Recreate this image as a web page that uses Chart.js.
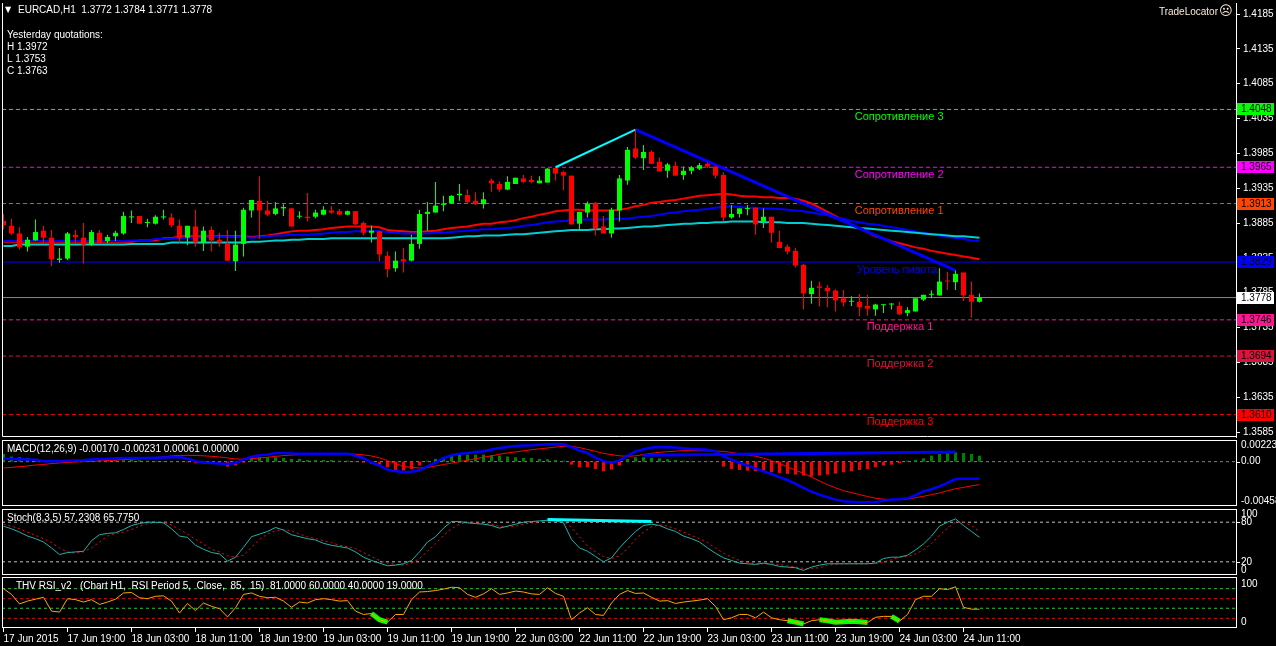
<!DOCTYPE html>
<html lang="en">
<head>
<meta charset="UTF-8" />
<title>EURCAD,H1</title>
<script src="https://cdn.jsdelivr.net/npm/chart.js@4.4.1/dist/chart.umd.min.js"></script>
<style>
  html, body { margin: 0; padding: 0; background: #000; }
  #wrap { position: relative; width: 1276px; height: 646px; background: #000; overflow: hidden; }
  canvas { position: absolute; left: 0; }
</style>
</head>
<body>
<div id="wrap">
  <canvas id="mainChart" width="1276" height="438" style="top:0px"></canvas>
  <canvas id="macdChart" width="1276" height="69" style="top:438px"></canvas>
  <canvas id="stochChart" width="1276" height="69" style="top:507px"></canvas>
  <canvas id="rsiChart" width="1276" height="70" style="top:576px"></canvas>
</div>
<script>
// ---- data (EURCAD H1, 17 Jun 11:00 .. 24 Jun 13:00) ----
const candleOpen = [
  1.3888,1.3881,1.3870,1.3851,1.3860,1.3874,1.3864,1.3832,1.3834,1.3868,
  1.3864,1.3854,1.3871,1.3859,1.3866,1.3870,1.3893,1.3895,1.3885,1.3884,
  1.3893,1.3893,1.3881,1.3864,1.3880,1.3857,1.3875,1.3861,1.3856,1.3830,
  1.3855,1.3903,1.3917,1.3903,1.3898,1.3906,1.3906,1.3894,1.3894,1.3894,
  1.3897,1.3903,1.3902,1.3897,1.3902,1.3885,1.3871,1.3873,1.3838,1.3820,
  1.3833,1.3831,1.3855,1.3898,1.3900,1.3911,1.3913,1.3925,1.3925,1.3917,
  1.3912,1.3946,1.3941,1.3933,1.3941,1.3949,1.3947,1.3942,1.3943,1.3964,
  1.3958,1.3953,1.3884,1.3900,1.3914,1.3880,1.3870,1.3903,1.3946,1.3992,
  1.3978,1.3987,1.3973,1.3960,1.3967,1.3954,1.3960,1.3963,1.3970,1.3966,
  1.3954,1.3893,1.3898,1.3905,1.3907,1.3887,1.3894,1.3858,1.3851,1.3845,
  1.3825,1.3783,1.3794,1.3792,1.3788,1.3777,1.3772,1.3772,1.3766,1.3761,
  1.3767,1.3768,1.3766,1.3756,1.3758,1.3775,1.3782,1.3781,1.3802,1.3800,
  1.3814,1.3782,1.3772];
const candleHigh = [
  1.3898,1.3891,1.3879,1.3865,1.3890,1.3881,1.3875,1.3849,1.3872,1.3875,
  1.3885,1.3875,1.3875,1.3868,1.3874,1.3901,1.3903,1.3895,1.3891,1.3896,
  1.3904,1.3899,1.3890,1.3881,1.3904,1.3880,1.3880,1.3871,1.3875,1.3874,
  1.3907,1.3918,1.3952,1.3917,1.3915,1.3912,1.3907,1.3902,1.3928,1.3904,
  1.3909,1.3909,1.3905,1.3903,1.3902,1.3887,1.3881,1.3874,1.3844,1.3844,
  1.3849,1.3868,1.3904,1.3915,1.3944,1.3924,1.3925,1.3941,1.3933,1.3929,
  1.3929,1.3949,1.3945,1.3952,1.3950,1.3954,1.3953,1.3952,1.3964,1.3965,
  1.3960,1.3953,1.3901,1.3916,1.3915,1.3895,1.3907,1.3954,1.3994,1.4019,
  1.3997,1.3989,1.3979,1.3971,1.3973,1.3966,1.3967,1.3971,1.3972,1.3967,
  1.3958,1.3911,1.3906,1.3911,1.3907,1.3906,1.3894,1.3874,1.3854,1.3849,
  1.3826,1.3802,1.3801,1.3796,1.3790,1.3789,1.3780,1.3783,1.3782,1.3769,
  1.3768,1.3770,1.3772,1.3764,1.3777,1.3782,1.3788,1.3820,1.3815,1.3817,
  1.3814,1.3801,1.3784];
const candleLow = [
  1.3876,1.3868,1.3847,1.3844,1.3860,1.3857,1.3823,1.3828,1.3832,1.3857,
  1.3827,1.3852,1.3855,1.3856,1.3859,1.3868,1.3885,1.3884,1.3879,1.3883,
  1.3890,1.3879,1.3857,1.3853,1.3851,1.3845,1.3844,1.3851,1.3830,1.3816,
  1.3837,1.3893,1.3862,1.3895,1.3896,1.3895,1.3880,1.3891,1.3887,1.3892,
  1.3896,1.3898,1.3897,1.3896,1.3882,1.3867,1.3857,1.3830,1.3807,1.3815,
  1.3814,1.3830,1.3848,1.3874,1.3900,1.3902,1.3913,1.3917,1.3913,1.3911,
  1.3906,1.3930,1.3930,1.3932,1.3941,1.3942,1.3942,1.3942,1.3943,1.3946,
  1.3932,1.3883,1.3874,1.3893,1.3867,1.3870,1.3864,1.3887,1.3940,1.3977,
  1.3961,1.3970,1.3959,1.3950,1.3953,1.3947,1.3955,1.3961,1.3964,1.3949,
  1.3888,1.3891,1.3893,1.3896,1.3868,1.3878,1.3857,1.3849,1.3840,1.3821,
  1.3761,1.3769,1.3765,1.3764,1.3758,1.3765,1.3766,1.3751,1.3752,1.3752,
  1.3756,1.3761,1.3753,1.3751,1.3758,1.3773,1.3777,1.3781,1.3789,1.3789,
  1.3773,1.3749,1.3771];
const candleClose = [
  1.3882,1.3870,1.3850,1.3861,1.3872,1.3864,1.3833,1.3834,1.3870,1.3865,
  1.3854,1.3872,1.3856,1.3865,1.3871,1.3895,1.3894,1.3884,1.3886,1.3894,
  1.3894,1.3882,1.3863,1.3881,1.3857,1.3874,1.3860,1.3857,1.3831,1.3854,
  1.3904,1.3918,1.3903,1.3897,1.3906,1.3908,1.3880,1.3895,1.3892,1.3900,
  1.3904,1.3900,1.3897,1.3902,1.3883,1.3871,1.3874,1.3840,1.3819,1.3831,
  1.3830,1.3855,1.3898,1.3901,1.3910,1.3913,1.3924,1.3927,1.3915,1.3912,
  1.3919,1.3942,1.3933,1.3944,1.3950,1.3944,1.3944,1.3946,1.3963,1.3956,
  1.3953,1.3883,1.3901,1.3913,1.3877,1.3870,1.3904,1.3949,1.3990,1.3979,
  1.3987,1.3970,1.3959,1.3969,1.3953,1.3960,1.3965,1.3968,1.3966,1.3953,
  1.3893,1.3898,1.3906,1.3906,1.3883,1.3894,1.3871,1.3849,1.3844,1.3824,
  1.3784,1.3792,1.3792,1.3787,1.3774,1.3771,1.3773,1.3764,1.3762,1.3768,
  1.3768,1.3769,1.3754,1.3760,1.3777,1.3782,1.3783,1.3801,1.3801,1.3812,
  1.3781,1.3772,1.3778];

const maRed = [
  1.3858,1.3858,1.3858,1.3858,1.3858,1.3858,1.3858,1.3858,1.3858,1.3858,
  1.3858,1.3858,1.3858,1.3858,1.3858,1.3858,1.3858,1.3860,1.3860,1.3860,
  1.3863,1.3863,1.3866,1.3866,1.3866,1.3866,1.3866,1.3866,1.3866,1.3866,
  1.3866,1.3865,1.3866,1.3867,1.3869,1.3871,1.3873,1.3874,1.3874,1.3875,
  1.3876,1.3878,1.3879,1.3880,1.3880,1.3880,1.3880,1.3879,1.3875,1.3874,
  1.3873,1.3872,1.3872,1.3873,1.3874,1.3876,1.3878,1.3879,1.3880,1.3882,
  1.3884,1.3884,1.3886,1.3887,1.3889,1.3892,1.3894,1.3897,1.3899,1.3902,
  1.3903,1.3904,1.3904,1.3903,1.3903,1.3903,1.3903,1.3904,1.3906,1.3909,
  1.3911,1.3914,1.3915,1.3917,1.3918,1.3920,1.3922,1.3924,1.3925,1.3926,
  1.3927,1.3926,1.3924,1.3923,1.3923,1.3922,1.3922,1.3921,1.3921,1.3920,
  1.3917,1.3913,1.3907,1.3901,1.3895,1.3889,1.3883,1.3877,1.3872,1.3866,
  1.3863,1.3859,1.3856,1.3853,1.3850,1.3848,1.3845,1.3843,1.3841,1.3839,
  1.3837,1.3835,1.3833];
const maBlue = [
  1.3859,1.3859,1.3859,1.3859,1.3859,1.3859,1.3859,1.3859,1.3859,1.3859,
  1.3859,1.3859,1.3859,1.3859,1.3859,1.3859,1.3860,1.3860,1.3860,1.3862,
  1.3862,1.3862,1.3864,1.3864,1.3864,1.3864,1.3865,1.3865,1.3865,1.3865,
  1.3865,1.3864,1.3865,1.3866,1.3867,1.3867,1.3868,1.3868,1.3868,1.3869,
  1.3870,1.3871,1.3872,1.3872,1.3873,1.3873,1.3873,1.3873,1.3872,1.3871,
  1.3870,1.3870,1.3870,1.3870,1.3871,1.3871,1.3872,1.3873,1.3874,1.3875,
  1.3876,1.3876,1.3877,1.3878,1.3879,1.3881,1.3882,1.3884,1.3886,1.3887,
  1.3888,1.3889,1.3890,1.3890,1.3890,1.3890,1.3891,1.3891,1.3891,1.3893,
  1.3894,1.3895,1.3897,1.3899,1.3900,1.3902,1.3903,1.3904,1.3905,1.3907,
  1.3908,1.3909,1.3908,1.3907,1.3907,1.3906,1.3906,1.3905,1.3904,1.3903,
  1.3902,1.3900,1.3898,1.3896,1.3893,1.3891,1.3888,1.3886,1.3884,1.3883,
  1.3881,1.3879,1.3877,1.3875,1.3873,1.3871,1.3869,1.3867,1.3865,1.3864,
  1.3862,1.3860,1.3859];
const maCyan = [
  1.3852,1.3852,1.3854,1.3854,1.3854,1.3854,1.3854,1.3854,1.3854,1.3854,
  1.3854,1.3854,1.3854,1.3854,1.3854,1.3854,1.3855,1.3855,1.3855,1.3855,
  1.3855,1.3857,1.3857,1.3857,1.3857,1.3857,1.3857,1.3857,1.3857,1.3857,
  1.3857,1.3858,1.3858,1.3859,1.3860,1.3860,1.3861,1.3861,1.3862,1.3862,
  1.3862,1.3863,1.3863,1.3863,1.3863,1.3863,1.3863,1.3863,1.3863,1.3863,
  1.3863,1.3863,1.3863,1.3863,1.3863,1.3863,1.3864,1.3865,1.3866,1.3866,
  1.3867,1.3867,1.3867,1.3868,1.3869,1.3869,1.3870,1.3871,1.3872,1.3873,
  1.3874,1.3875,1.3875,1.3875,1.3876,1.3876,1.3877,1.3877,1.3878,1.3879,
  1.3880,1.3880,1.3881,1.3882,1.3883,1.3884,1.3884,1.3885,1.3885,1.3886,
  1.3886,1.3887,1.3887,1.3887,1.3887,1.3886,1.3886,1.3886,1.3885,1.3885,
  1.3885,1.3884,1.3883,1.3882,1.3881,1.3880,1.3879,1.3878,1.3877,1.3876,
  1.3875,1.3874,1.3873,1.3872,1.3871,1.3870,1.3869,1.3868,1.3867,1.3866,
  1.3866,1.3865,1.3864];

const macdMain = [
  0.00030,0.00028,0.00025,0.00022,0.00018,0.00005,0.00003,0.00003,0.00010,0.00012,
  0.00015,0.00022,0.00027,0.00030,0.00035,0.00037,0.00038,0.00038,0.00038,0.00040,
  0.00042,0.00045,0.00047,0.00030,0.00005,-0.00010,-0.00014,-0.00020,-0.00025,-0.00015,
  0.00020,0.00050,0.00065,0.00072,0.00089,0.00089,0.00085,0.00082,0.00082,0.00082,
  0.00082,0.00082,0.00082,0.00080,0.00060,0.00035,-0.00010,-0.00040,-0.00083,-0.00100,
  -0.00107,-0.00105,-0.00090,-0.00050,-0.00010,0.00035,0.00065,0.00080,0.00089,0.00100,
  0.00106,0.00125,0.00140,0.00150,0.00160,0.00167,0.00170,0.00175,0.00180,0.00181,
  0.00178,0.00150,0.00115,0.00090,0.00040,0.00005,-0.00012,0.00010,0.00060,0.00105,
  0.00128,0.00145,0.00150,0.00149,0.00146,0.00138,0.00130,0.00127,0.00123,0.00108,
  0.00054,0.00020,-0.00012,-0.00040,-0.00070,-0.00100,-0.00128,-0.00160,-0.00190,-0.00230,
  -0.00272,-0.00310,-0.00340,-0.00368,-0.00392,-0.00408,-0.00415,-0.00420,-0.00420,-0.00418,
  -0.00405,-0.00392,-0.00388,-0.00380,-0.00345,-0.00307,-0.00285,-0.00255,-0.00220,-0.00180,
  -0.00176,-0.00176,-0.00176];
const macdSignal = [
  -0.00066,-0.00060,-0.00052,-0.00045,-0.00035,-0.00030,-0.00020,-0.00014,-0.00008,-0.00004,
  0.00000,0.00003,0.00007,0.00010,0.00015,0.00020,0.00025,0.00030,0.00035,0.00042,
  0.00050,0.00058,0.00064,0.00065,0.00063,0.00060,0.00055,0.00048,0.00038,0.00028,
  0.00025,0.00030,0.00037,0.00045,0.00054,0.00062,0.00068,0.00072,0.00074,0.00076,
  0.00078,0.00078,0.00078,0.00078,0.00076,0.00070,0.00058,0.00040,0.00010,-0.00020,
  -0.00050,-0.00059,-0.00066,-0.00060,-0.00045,-0.00030,-0.00015,0.00000,0.00015,0.00030,
  0.00045,0.00060,0.00075,0.00090,0.00100,0.00112,0.00123,0.00132,0.00140,0.00150,
  0.00158,0.00158,0.00145,0.00125,0.00106,0.00085,0.00072,0.00060,0.00054,0.00060,
  0.00072,0.00085,0.00096,0.00103,0.00108,0.00113,0.00113,0.00112,0.00110,0.00108,
  0.00106,0.00095,0.00080,0.00068,0.00056,0.00035,0.00010,-0.00020,-0.00055,-0.00088,
  -0.00120,-0.00160,-0.00200,-0.00238,-0.00270,-0.00300,-0.00320,-0.00340,-0.00360,-0.00378,
  -0.00388,-0.00393,-0.00390,-0.00386,-0.00372,-0.00358,-0.00340,-0.00324,-0.00300,-0.00280,
  -0.00266,-0.00250,-0.00238];
const macdHist = [
  0.00079,0.00052,0.00045,0.00038,0.00028,0.00014,0.00010,0.00010,0.00014,0.00017,
  0.00017,0.00017,0.00020,0.00017,0.00017,0.00014,0.00017,0.00014,0.00010,0.00007,
  0.00005,0.00003,0.00000,-0.00007,-0.00017,-0.00017,-0.00017,-0.00024,-0.00052,-0.00041,
  -0.00010,0.00038,0.00045,0.00045,0.00045,0.00038,0.00028,0.00028,0.00017,0.00017,
  0.00017,0.00017,0.00010,0.00010,0.00005,-0.00010,-0.00024,-0.00041,-0.00058,-0.00086,
  -0.00093,-0.00076,-0.00041,0.00010,0.00028,0.00045,0.00062,0.00072,0.00072,0.00072,
  0.00072,0.00065,0.00062,0.00052,0.00045,0.00038,0.00038,0.00028,0.00024,0.00017,
  0.00010,-0.00031,-0.00058,-0.00058,-0.00076,-0.00100,-0.00083,-0.00041,0.00028,0.00045,
  0.00045,0.00038,0.00034,0.00024,0.00017,0.00010,0.00007,0.00005,0.00003,0.00000,
  -0.00052,-0.00076,-0.00086,-0.00093,-0.00100,-0.00103,-0.00110,-0.00117,-0.00127,-0.00134,
  -0.00144,-0.00155,-0.00144,-0.00134,-0.00124,-0.00110,-0.00100,-0.00086,-0.00076,-0.00058,
  -0.00041,-0.00031,-0.00017,0.00010,0.00017,0.00034,0.00062,0.00079,0.00086,0.00096,
  0.00089,0.00079,0.00061];

const stochMain = [
  74,70,65,59,55,50,41,31,34,35, 36,52,61,63,64,69,75,78,80,80,
  79,70,59,57,45,39,34,32,21,27, 42,58,62,66,72,68,61,58,55,53,
  48,45,43,41,35,27,22,18,14,15, 17,22,35,50,58,71,81,81,79,78,
  77,75,71,74,77,80,81,82,83,82, 79,54,41,36,28,20,26,41,54,66,
  75,77,75,70,66,59,55,50,41,33, 26,22,18,17,16,18,16,13,12,11,
  7,12,15,17,17,17,17,17,17,18, 25,27,27,30,38,47,59,74,80,85,
  75,66,57];
const stochSignal = [
  77,74,70,65,60,55,49,41,35,33, 35,41,50,59,63,65,69,74,78,79,
  80,76,69,62,54,47,39,35,29,27, 30,42,54,62,67,69,67,62,58,55,
  52,49,45,43,40,34,28,22,18,16, 15,18,25,36,48,60,70,77,80,79,
  78,77,74,73,74,77,79,81,82,82, 81,72,58,44,35,28,25,29,40,54,
  65,73,76,74,70,65,60,55,49,41, 33,27,22,19,17,17,17,16,14,12,
  10,10,11,15,16,17,17,17,17,17, 20,23,27,28,32,38,48,60,71,80,
  80,75,66];

const rsiVals = [
  81,69,49,55,59,63,34,32,60,58, 53,58,48,53,59,72,73,62,60,65,
  66,55,30,50,35,51,44,39,22,41, 69,72,65,62,63,55,42,53,51,58,
  60,58,55,56,34,27,29,16,11,27, 27,58,74,75,77,80,84,83,69,63,
  70,81,69,72,76,74,70,69,83,71, 65,16,30,41,27,25,51,69,77,71,
  72,63,55,56,50,53,55,57,60,44, 16,20,27,27,20,32,20,16,14,11,
  7,14,16,14,11,12,13,12,10,21, 23,23,13,27,58,65,65,81,79,85,
  42,38,38];
const rsiHotRanges = [[46, 48], [98, 100], [102, 108], [111, 112]];
const rsiLevels = [81, 60, 40, 19];
const rsiLevelColors = ['#22CC22', '#FF0000', '#22CC22', '#FF0000'];

const timeTickIdx = [0, 8, 16, 24, 32, 40, 48, 56, 64, 72, 80, 88, 96, 104, 112, 120];
const timeLabels = ['17 Jun 2015', '17 Jun 19:00', '18 Jun 03:00', '18 Jun 11:00', '18 Jun 19:00',
  '19 Jun 03:00', '19 Jun 11:00', '19 Jun 19:00', '22 Jun 03:00', '22 Jun 11:00', '22 Jun 19:00',
  '23 Jun 03:00', '23 Jun 11:00', '23 Jun 19:00', '24 Jun 03:00', '24 Jun 11:00'];
const priceTicks = [1.4185, 1.4135, 1.4085, 1.4035, 1.3985, 1.3935, 1.3885, 1.3835, 1.3785, 1.3735, 1.3685, 1.3635, 1.3585];

const levelValues = [1.4048, 1.3965, 1.3913, 1.3829, 1.3746, 1.3694, 1.3610];
const levelNames = ['Сопротивление 3', 'Сопротивление 2', 'Сопротивление 1', 'Уровень пивота', 'Поддержка 1', 'Поддержка 2', 'Поддержка 3'];
const levelColors = ['#00FF00', '#FF00FF', '#FF4500', '#0000FF', '#FF1493', '#DC143C', '#FF0000'];
const levelLabelIdx = [106.4, 106.4, 106.4, 106.7, 107.9, 107.9, 107.9];
const currentPrice = 1.3778;

const trendUp = [[69, 1.3965], [79, 1.4019]];
const trendDown = [[79, 1.4019], [119, 1.3817]];
const macdTrend = [[80, 0.00065], [119, 0.00099]];
const stochTrend = [[68, 84], [81, 81]];

const headerQuote = ['1.3772', '1.3784', '1.3771', '1.3778'];
const yesterdayHLC = [['H', '1.3972'], ['L', '1.3753'], ['C', '1.3763']];

// ---- layout ----
const FONT = '"Liberation Sans", Arial, sans-serif';
const XMIN = -0.1875, XMAX = 154.0625;   // 8px per bar, bar 0 at x=3.5
const PRICE_MIN = 1.357785, PRICE_MAX = 1.420079;

const idx = candleOpen.map((_, i) => i);
const candleColor = idx.map(i => candleClose[i] >= candleOpen[i] ? '#00FF00' : '#FF0000');

function hline(v, color, dash, order) {
  return { type: 'line', data: [{ x: XMIN, y: v }, { x: XMAX, y: v }], borderColor: color,
    borderWidth: 1, borderDash: dash, pointRadius: 0, order: order };
}
function series(vals, color, width, order, dash) {
  return { type: 'line', data: idx.map(i => ({ x: i, y: vals[i] })), borderColor: color,
    borderWidth: width, borderDash: dash || [], pointRadius: 0, tension: 0, order: order };
}
function segment(pts, color, width, order) {
  return { type: 'line', data: pts.map(p => ({ x: p[0], y: p[1] })), borderColor: color,
    borderWidth: width, pointRadius: 0, order: order };
}
function text(ctx, s, x, y, color, size, align, base, family) {
  ctx.font = size + 'px ' + (family || FONT);
  ctx.fillStyle = color;
  ctx.textAlign = align || 'left';
  ctx.textBaseline = base || 'middle';
  ctx.fillText(s, x, y);
}
function xScale(show) {
  return { type: 'linear', min: XMIN, max: XMAX, offset: false, display: show };
}
const baseOpts = {
  responsive: false, animation: false, devicePixelRatio: 1,
  plugins: { legend: { display: false }, tooltip: { enabled: false } }
};

// ---- main price window ----
const mainDecor = {
  id: 'mainDecor',
  afterDatasetsDraw(chart) {
    const { ctx, scales: { x, y } } = chart;
    ctx.save();
    levelValues.forEach((v, k) => {
      text(ctx, levelNames[k], x.getPixelForValue(levelLabelIdx[k]), y.getPixelForValue(v) + 2, levelColors[k], 11, 'left', 'top');
    });
    ctx.restore();
  },
  afterDraw(chart) {
    const { ctx, chartArea: a, scales: { y } } = chart;
    ctx.save();
    ctx.strokeStyle = '#fff';
    ctx.lineWidth = 1;
    ctx.beginPath();
    ctx.moveTo(a.left + 0.5, a.top);
    ctx.lineTo(a.left + 0.5, a.bottom - 0.5);
    ctx.lineTo(a.right, a.bottom - 0.5);
    ctx.stroke();
    // price boxes on the axis
    const boxes = levelValues.map((v, k) => [v, levelColors[k]]).concat([[currentPrice, '#FFFFFF']]);
    boxes.forEach(([v, c]) => {
      const py = Math.round(y.getPixelForValue(v));
      ctx.fillStyle = c;
      ctx.fillRect(a.right + 1, py - 6, 37, 12);
      text(ctx, v.toFixed(4), a.right + 5, py + 0.5, '#000', 10, 'left', 'middle');
    });
    // header
    text(ctx, '▼', 5, 10, '#fff', 8, 'left', 'middle', '"DejaVu Sans"');
    text(ctx, 'EURCAD,H1  ' + headerQuote.join(' '), 18, 10, '#fff', 10);
    text(ctx, 'Yesterday quotations:', 7, 35, '#fff', 10);
    yesterdayHLC.forEach((r, k) => text(ctx, r[0] + ' ' + r[1], 7, 47 + k * 12, '#fff', 10));
    text(ctx, 'TradeLocator', 1218, 12, '#FAEBD7', 10, 'right');
    text(ctx, '☹', 1219, 12, '#FAEBD7', 13, 'left', 'middle', '"DejaVu Sans"');
    ctx.restore();
  }
};

new Chart(document.getElementById('mainChart'), {
  type: 'line',
  data: {
    datasets: [
      ...levelValues.map((v, k) => hline(v, levelColors[k], k === 3 ? [] : [4, 3], 9)),
      hline(currentPrice, '#778899', [], 9),
      series(maCyan, '#00CED1', 2, 6),
      series(maBlue, '#0000FF', 2, 6),
      series(maRed, '#FF0000', 2, 6),
      segment(trendUp, '#00FFFF', 2, 5),
      segment(trendDown, '#0000FF', 3, 5),
      { type: 'bar', data: idx.map(i => ({ x: i, y: [candleLow[i], candleHigh[i]] })),
        backgroundColor: candleColor, barThickness: 1, grouped: false, inflateAmount: 0, order: 2 },
      { type: 'bar', data: idx.map(i => ({ x: i, y: [candleOpen[i], candleClose[i]] })),
        backgroundColor: candleColor, barThickness: 5, minBarLength: 1, grouped: false, inflateAmount: 0, order: 1 }
    ]
  },
  options: {
    ...baseOpts,
    layout: { padding: { left: 2, right: 0, top: 3, bottom: 1 } },
    scales: {
      x: xScale(false),
      y: {
        position: 'right', min: PRICE_MIN, max: PRICE_MAX,
        afterFit: s => { s.width = 40; s.paddingTop = 0; s.paddingBottom = 0; },
        afterBuildTicks: s => { s.ticks = priceTicks.map(v => ({ value: v })); },
        ticks: { color: '#fff', font: { family: FONT, size: 10 }, padding: 3, autoSkip: false,
          callback: v => Number(v).toFixed(4) },
        grid: { drawOnChartArea: false, color: '#fff', tickLength: 4 },
        border: { color: '#fff' }
      }
    }
  },
  plugins: [mainDecor]
});

// ---- indicator windows ----
function panelDecor(title, titleX, sideLabels) {
  return {
    id: 'panelDecor',
    afterDraw(chart) {
      const { ctx, chartArea: a, scales: { y } } = chart;
      ctx.save();
      ctx.strokeStyle = '#fff';
      ctx.lineWidth = 1;
      ctx.strokeRect(a.left + 0.5, a.top + 0.5, a.right - a.left, a.bottom - a.top - 1);
      text(ctx, title, titleX, a.top + 9, '#fff', 10);
      sideLabels.forEach(l => {
        const py = y.getPixelForValue(l.v);
        text(ctx, l.t, a.right + 5, py, '#fff', 10, 'left', l.base);
        if (l.base === 'middle') {
          ctx.beginPath();
          ctx.moveTo(a.right, Math.round(py) + 0.5);
          ctx.lineTo(a.right + 4, Math.round(py) + 0.5);
          ctx.stroke();
        }
      });
      ctx.restore();
    }
  };
}
function panel(id, datasets, yMin, yMax, decor, withTime) {
  const x = xScale(withTime);
  if (withTime) {
    Object.assign(x, {
      position: 'bottom',
      afterFit: s => { s.height = 18; s.paddingLeft = 0; s.paddingRight = 0; },
      afterBuildTicks: s => { s.ticks = timeTickIdx.map(v => ({ value: v })); },
      ticks: { color: '#fff', font: { family: FONT, size: 10 }, align: 'start', padding: 1,
        maxRotation: 0, minRotation: 0, autoSkip: false,
        callback: v => timeLabels[timeTickIdx.indexOf(v)] },
      grid: { drawOnChartArea: false, color: '#fff', tickLength: 4 },
      border: { display: false }
    });
  }
  return new Chart(document.getElementById(id), {
    type: 'line',
    data: { datasets: datasets },
    options: {
      ...baseOpts,
      layout: { padding: { left: 2, right: 40, top: withTime ? 1 : 2, bottom: withTime ? 0 : 1 } },
      scales: { x: x, y: { display: false, min: yMin, max: yMax } }
    },
    plugins: [decor]
  });
}

panel('macdChart', [
  hline(0, '#808080', [3, 3], 9),
  { type: 'bar', data: idx.map(i => ({ x: i, y: macdHist[i] })),
    backgroundColor: idx.map(i => macdHist[i] >= 0 ? '#008000' : '#FF0000'),
    barThickness: 3, inflateAmount: 0, order: 7 },
  series(macdSignal, '#FF0000', 1, 4),
  series(macdMain, '#0000FF', 2.5, 3),
  segment(macdTrend, '#0000FF', 3, 2)
], -0.00458, 0.00223,
  panelDecor('MACD(12,26,9) -0.00170 -0.00231 0.00061 0.00000', 7, [
    { v: 0.00223, t: '0.00223', base: 'top' },
    { v: 0, t: '0.00', base: 'middle' },
    { v: -0.00458, t: '-0.00458', base: 'bottom' }
  ]), false);

panel('stochChart', [
  hline(80, '#C0C0C0', [3, 3], 9),
  hline(20, '#C0C0C0', [3, 3], 9),
  series(stochSignal, '#FF0000', 1, 4, [2, 3]),
  series(stochMain, '#20B2AA', 1, 3),
  segment(stochTrend, '#00FFFF', 3, 2)
], 0, 100,
  panelDecor('Stoch(8,3,5) 57.2308 65.7750', 7, [
    { v: 100, t: '100', base: 'top' },
    { v: 80, t: '80', base: 'middle' },
    { v: 20, t: '20', base: 'middle' },
    { v: 0, t: '0', base: 'bottom' }
  ]), false);

const rsiHot = idx.map(i => ({ x: i, y: rsiHotRanges.some(r => i >= r[0] && i <= r[1]) ? rsiVals[i] : null }));
panel('rsiChart', [
  ...rsiLevels.map((v, k) => hline(v, rsiLevelColors[k], [3, 3], 9)),
  { type: 'line', data: rsiHot, borderColor: '#00FF00', borderWidth: 5, pointRadius: 0, spanGaps: false, order: 4 },
  series(rsiVals, '#FFA500', 1, 3)
], -1.3, 105.4,
  panelDecor('THV RSI_v2   (Chart H1,  RSI Period 5,  Close,  85,  15)  81.0000 60.0000 40.0000 19.0000', 16, [
    { v: 100, t: '100', base: 'top' },
    { v: 0, t: '0', base: 'bottom' }
  ]), true);
</script>
</body>
</html>
